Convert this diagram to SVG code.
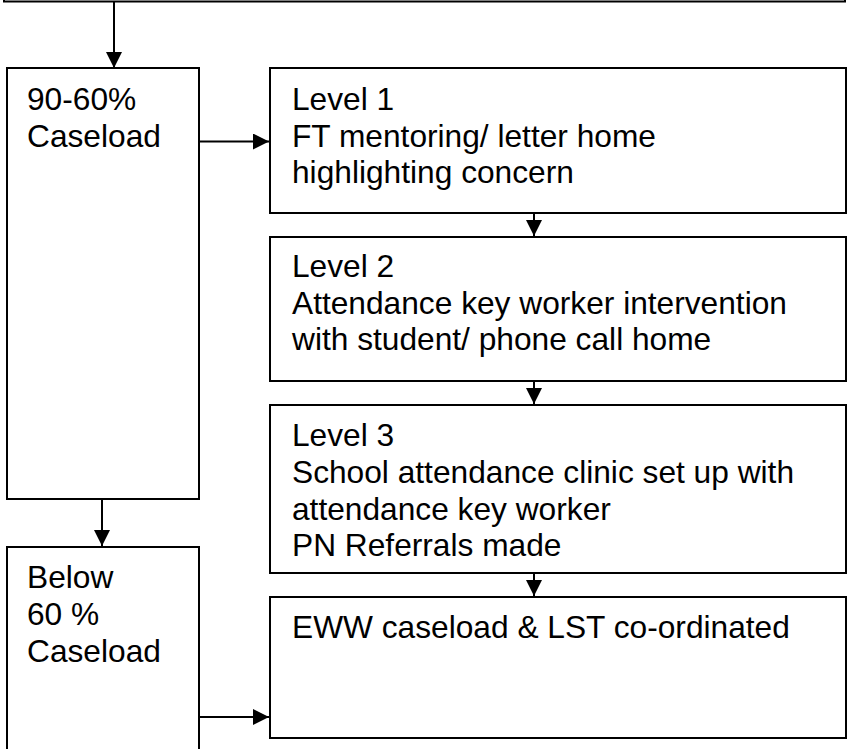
<svg xmlns="http://www.w3.org/2000/svg" width="848" height="749" viewBox="0 0 848 749">
  <style>
    .box { fill: #ffffff; stroke: #000000; stroke-width: 2; }
    .txt { font-family: "Liberation Sans", Arial, sans-serif; font-size: 31.7px; fill: #000000; }
    .conn { stroke: #000000; stroke-width: 2; fill: none; marker-end: url(#arrow); }
  </style>
  <defs>
    <marker id="arrow" markerUnits="userSpaceOnUse" markerWidth="16" markerHeight="16" viewBox="0 0 15 15" refX="15" refY="7.5" orient="auto">
      <path d="M0,0 L15,7.5 L0,15 Z" fill="#000000"/>
    </marker>
  </defs>

  <rect width="848" height="749" fill="#ffffff"/>

  <g id="node-top">
    <rect class="box" x="4" y="-10" width="841" height="11.5"/>
  </g>

  <g id="node-90-60">
    <rect class="box" x="7" y="68" width="192" height="431"/>
    <text class="txt" x="27" y="110">90-60%</text>
    <text class="txt" x="27" y="147">Caseload</text>
  </g>

  <g id="node-below60">
    <rect class="box" x="7" y="547" width="192" height="220"/>
    <text class="txt" x="27" y="588">Below</text>
    <text class="txt" x="27" y="625">60 %</text>
    <text class="txt" x="27" y="662">Caseload</text>
  </g>

  <g id="node-level1">
    <rect class="box" x="270" y="68" width="576" height="145"/>
    <text class="txt" x="292" y="110">Level 1</text>
    <text class="txt" x="292" y="147">FT mentoring/ letter home</text>
    <text class="txt" x="292" y="183">highlighting concern</text>
  </g>

  <g id="node-level2">
    <rect class="box" x="270" y="237" width="576" height="144"/>
    <text class="txt" x="292" y="277">Level 2</text>
    <text class="txt" x="292" y="314">Attendance key worker intervention</text>
    <text class="txt" x="292" y="350">with student/ phone call home</text>
  </g>

  <g id="node-level3">
    <rect class="box" x="270" y="405" width="576" height="168"/>
    <text class="txt" x="292" y="446">Level 3</text>
    <text class="txt" x="292" y="483">School attendance clinic set up with</text>
    <text class="txt" x="292" y="520">attendance key worker</text>
    <text class="txt" x="292" y="556">PN Referrals made</text>
  </g>

  <g id="node-eww">
    <rect class="box" x="270" y="597" width="576" height="141"/>
    <text class="txt" x="292" y="638">EWW caseload &amp; LST co-ordinated</text>
  </g>

  <g id="connectors">
    <line class="conn" x1="114" y1="2" x2="114" y2="68"/>
    <line class="conn" x1="199" y1="141.5" x2="269" y2="141.5"/>
    <line class="conn" x1="534" y1="213" x2="534" y2="236"/>
    <line class="conn" x1="534" y1="381" x2="534" y2="404"/>
    <line class="conn" x1="534" y1="573" x2="534" y2="596"/>
    <line class="conn" x1="102" y1="499" x2="102" y2="546"/>
    <line class="conn" x1="199" y1="717" x2="269" y2="717"/>
  </g>
</svg>
